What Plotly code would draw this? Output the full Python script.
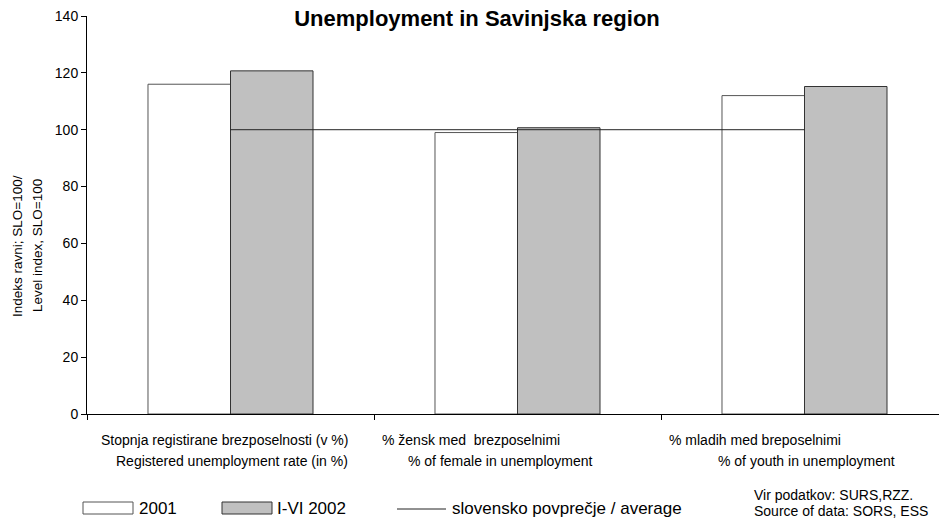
import plotly.graph_objects as go

categories = ["Stopnja registirane brezposelnosti (v %)", "% žensk med  brezposelnimi", "% mladih med breposelnimi"]
categories_en = ["Registered unemployment rate (in %)", "% of female in unemployment", "% of youth in unemployment"]
series_names = ["2001", "I-VI 2002", "slovensko povprečje / average"]
v2001 = [116, 99, 112]
v2002 = [120.7, 100.7, 115.2]
v_avg = [100, 100, 100]
y_ticks = [0, 20, 40, 60, 80, 100, 120, 140]
y_title_lines = ["Indeks ravni; SLO=100/", "Level index, SLO=100"]
source_lines = ["Vir podatkov: SURS,RZZ.", "Source of data: SORS, ESS"]

FONT = "Arial, Liberation Sans, sans-serif"
W, H = 939, 519
L, T, B = 87, 16, 105
PW = W - L
PH = H - T - B


def px(x):
    return (x - L) / PW


def py(y):
    return (H - B - y) / PH


fig = go.Figure()
fig.add_trace(go.Bar(x=categories, y=v2001, name=series_names[0],
                     marker=dict(color="white", line=dict(color="#555555", width=1))))
fig.add_trace(go.Bar(x=categories, y=v2002, name=series_names[1],
                     marker=dict(color="#c0c0c0", line=dict(color="#333333", width=1))))
fig.add_trace(go.Scatter(x=categories, y=v_avg, name=series_names[2], mode="lines",
                         line=dict(color="#222222", width=1)))

ann = []
# category labels (two lines)
shift1 = [-6, -47, -50]
shift2 = [1, -17, 2]
for i, c in enumerate(categories):
    ann.append(dict(x=c, xref="x", y=py(440), yref="paper", text=c, showarrow=False,
                    xanchor="center", yanchor="middle", xshift=shift1[i],
                    font=dict(size=14, color="black", family=FONT)))
    ann.append(dict(x=c, xref="x", y=py(461), yref="paper", text=categories_en[i], showarrow=False,
                    xanchor="center", yanchor="middle", xshift=shift2[i],
                    font=dict(size=14, color="black", family=FONT)))
# y axis title (two rotated lines)
for xpos, t in zip([18, 38], y_title_lines):
    ann.append(dict(x=px(xpos), y=py(246), xref="paper", yref="paper", textangle=-90,
                    text=t, showarrow=False, xanchor="center", yanchor="middle",
                    font=dict(size=13.5, color="black", family=FONT)))
# legend texts
leg_text_x = [137, 275, 450]
for i, n in enumerate(series_names):
    ann.append(dict(x=px(leg_text_x[i]), y=py(508), xref="paper", yref="paper", text=n,
                    showarrow=False, xanchor="left", yanchor="middle",
                    font=dict(size=17, color="black", family=FONT)))
# source
for ypos, t in zip([495, 511], source_lines):
    ann.append(dict(x=px(752), y=py(ypos), xref="paper", yref="paper", text=t,
                    showarrow=False, xanchor="left", yanchor="middle",
                    font=dict(size=14, color="black", family=FONT)))

shapes = [
    dict(type="rect", xref="paper", yref="paper", x0=px(83), x1=px(133), y0=py(502), y1=py(514),
         line=dict(color="#555555", width=1), fillcolor="white"),
    dict(type="rect", xref="paper", yref="paper", x0=px(222), x1=px(272), y0=py(502), y1=py(514),
         line=dict(color="#333333", width=1), fillcolor="#c0c0c0"),
    dict(type="line", xref="paper", yref="paper", x0=px(397), x1=px(446), y0=py(509), y1=py(509),
         line=dict(color="#222222", width=1)),
]

fig.update_layout(
    width=W, height=H,
    margin=dict(l=L, r=0, t=T, b=B),
    paper_bgcolor="white", plot_bgcolor="white",
    barmode="group", bargap=0.425, bargroupgap=0,
    showlegend=False,
    title=dict(text="<b>Unemployment in Savinjska region</b>", x=477 / W, xref="container",
               xanchor="center", y=1 - 18 / H, yanchor="middle",
               font=dict(size=22, color="black", family=FONT)),
    font=dict(family=FONT, color="black"),
    annotations=ann, shapes=shapes,
)
fig.update_xaxes(type="category", range=[-0.5, 2.5 - 9 / 287], showticklabels=False,
                 ticks="outside", tickson="boundaries", ticklen=5, tickcolor="black",
                 showline=True, linecolor="black", linewidth=1, showgrid=False, zeroline=False)
fig.update_yaxes(range=[0, 140], tickvals=y_ticks, ticks="outside", ticklen=5, tickcolor="black",
                 showline=True, linecolor="black", linewidth=1, showgrid=False, zeroline=False,
                 tickfont=dict(size=14, color="black", family=FONT))

fig.write_html("out.html", config={"displayModeBar": False},
               post_script="document.body.style.margin='0';document.body.style.overflow='hidden';")
